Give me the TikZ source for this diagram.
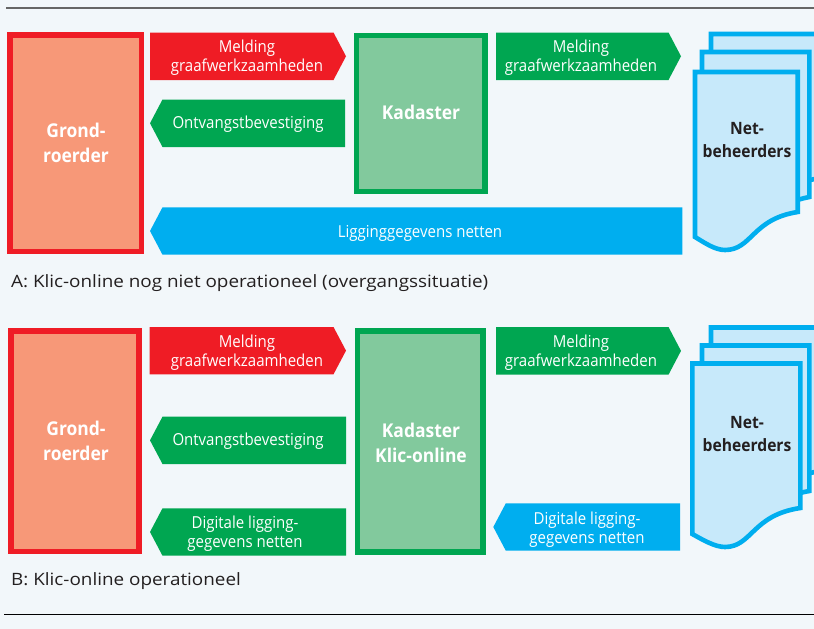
\documentclass[tikz,border=0pt]{standalone}
\usepackage{fontspec}
\setmainfont[FakeStretch=1.11]{Open Sans}
\newfontfamily\condfont[FakeStretch=0.91]{Open Sans}
\newfontfamily\boldcond[FakeStretch=0.92]{Open Sans}
\definecolor{bgc}{HTML}{F2F7FA}
\definecolor{redc}{HTML}{EF1C25}
\definecolor{salmon}{HTML}{F79878}
\definecolor{greenc}{HTML}{00A651}
\definecolor{lgreen}{HTML}{82C99D}
\definecolor{bluec}{HTML}{00AEEF}
\definecolor{lblue}{HTML}{C7E9FA}
\definecolor{rulec}{HTML}{666666}
\definecolor{inkc}{HTML}{231F20}
\tikzset{
  x=1pt,y=-1pt,
  lab/.style={text=white,align=center,inner sep=0pt,font=\condfont\fontsize{16.5}{19}\selectfont},
  bigw/.style={text=white,align=center,inner sep=0pt,font=\boldcond\bfseries\fontsize{19}{25}\selectfont},
  bigd/.style={text=inkc,align=center,inner sep=0pt,font=\boldcond\bfseries\fontsize{17}{23}\selectfont},
  capt/.style={text=inkc,anchor=west,inner sep=0pt,font=\fontsize{17}{20}\selectfont},
  doc/.style={draw=bluec,fill=lblue,line width=4.6pt,miter limit=4},
}
% right-pointing and left-pointing arrow shapes: left x, tip x, top y, bottom y, colour
\newcommand{\rarrow}[5]{\fill[#5] (#1,#3) -- (#2-12.5,#3) -- (#2,#3/2+#4/2) -- (#2-12.5,#4) -- (#1,#4) -- cycle;}
\newcommand{\larrow}[5]{\fill[#5] (#2,#3) -- (#1+12.5,#3) -- (#1,#3/2+#4/2) -- (#1+12.5,#4) -- (#2,#4) -- cycle;}
\begin{document}
\begin{tikzpicture}
\useasboundingbox (0,0) rectangle (814,629);
\begin{scope}
\clip (0,0) rectangle (814,629);
\fill[bgc] (0,0) rectangle (814,629);
\draw[rulec,line width=1.1pt] (6,8) -- (814,8);
\draw[black,line width=1pt] (4.3,614) -- (814,614);

% Panel A
\draw[redc,fill=salmon,line width=5.3pt] (10,35) rectangle (141.3,251.3);
\node[bigw] (ga) at (76,142.5) {Grond-\\roerder};
\rarrow{150}{346}{32.5}{80}{redc}
\node[lab] (m1a) at (247,57.3) {Melding\\graafwerkzaamheden};
\larrow{150}{345}{99.5}{147}{greenc}
\node[lab] (oa) at (248,124) {Ontvangstbevestiging};
\draw[greenc,fill=lgreen,line width=5.3pt] (356.7,35.2) rectangle (485,191.4);
\node[bigw] (ka) at (421,112) {Kadaster};
\rarrow{496}{681}{32.5}{80}{greenc}
\node[lab] (m2a) at (581,57.3) {Melding\\graafwerkzaamheden};
\larrow{150}{682.3}{207.3}{254.7}{bluec}
\node[lab] (la) at (420,233) {Ligginggegevens netten};
\draw[doc] (711,34) -- (830,34) -- (830,176) -- (800,182) -- (760,200) -- (711,200) -- cycle;
\draw[doc] (702,52) -- (809.3,52) -- (809.3,197) .. controls (780,203) and (760,215) .. (745,230) -- (702,230) -- cycle;
\draw[doc] (695,72) -- (797.7,72) -- (797.7,212) .. controls (752,219) and (752,250) .. (725,250) .. controls (715,250) and (705,243) .. (695,237) -- cycle;
\node[bigd] (na) at (747,140.5) {Net-\\beheerders};
\node[capt] (ca) at (11,283.5) {A: Klic-online nog niet operationeel (overgangssituatie)};

% Panel B
\draw[redc,fill=salmon,line width=5.3pt] (11,331) rectangle (139,551.6);
\node[bigw] (gb) at (76,440.5) {Grond-\\roerder};
\rarrow{149.5}{346}{327}{374.3}{redc}
\node[lab] (m1b) at (247,352.3) {Melding\\graafwerkzaamheden};
\larrow{150}{346}{416.7}{464}{greenc}
\node[lab] (ob) at (248,441) {Ontvangstbevestiging};
\larrow{150}{346}{508.3}{555.7}{greenc}
\node[lab] (db) at (245,533.3) {Digitale ligging-\\gegevens netten};
\draw[greenc,fill=lgreen,line width=5.3pt] (357.3,331) rectangle (483,552);
\node[bigw] (kb) at (421,442.5) {Kadaster\\Klic-online};
\rarrow{496}{681}{327}{374.7}{greenc}
\node[lab] (m2b) at (581,352.3) {Melding\\graafwerkzaamheden};
\larrow{493.3}{680}{503.3}{550.7}{bluec}
\node[lab] (db2) at (587,529.3) {Digitale ligging-\\gegevens netten};
\draw[doc] (711,327.5) -- (830,327.5) -- (830,469) -- (800,475) -- (760,495) -- (711,495) -- cycle;
\draw[doc] (702,345.5) -- (809.3,345.5) -- (809.3,491) .. controls (780,496) and (760,510) .. (745,525) -- (702,525) -- cycle;
\draw[doc] (692.3,363.5) -- (800.4,363.5) -- (800.4,508) .. controls (752,515) and (752,547) .. (725,547) .. controls (715,547) and (703,540) .. (692.3,534) -- cycle;
\node[bigd] (nb) at (747,434.5) {Net-\\beheerders};
\node[capt] (cb) at (11,581) {B: Klic-online operationeel};
\end{scope}
\end{tikzpicture}
\end{document}
